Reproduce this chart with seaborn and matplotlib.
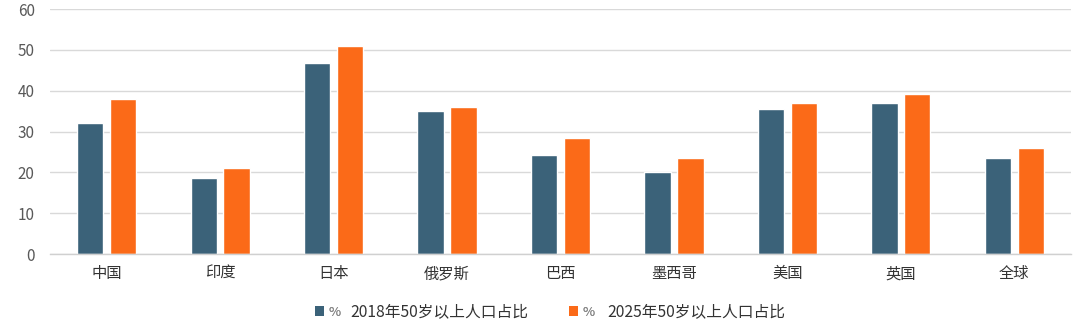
import matplotlib
matplotlib.use("Agg")
import matplotlib.pyplot as plt
import seaborn as sns
import pandas as pd
from matplotlib.patches import Patch

categories = ["中国", "印度", "日本", "俄罗斯", "巴西", "墨西哥", "美国", "英国", "全球"]
share_2018 = [32.0, 18.7, 46.9, 35.0, 24.3, 20.1, 35.4, 37.1, 23.6]
share_2025 = [38.0, 21.0, 51.0, 36.1, 28.3, 23.5, 36.9, 39.2, 26.0]
series_names = ["2018年50岁以上人口占比", "2025年50岁以上人口占比"]
y_ticks = [0, 10, 20, 30, 40, 50, 60]

colors = ["#3b6279", "#fb6a18"]

df = pd.DataFrame({
    "国家": categories * 2,
    "占比": share_2018 + share_2025,
    "系列": [series_names[0]] * len(categories) + [series_names[1]] * len(categories),
})

sns.set_theme(style="white")
plt.rcParams["font.family"] = ["Noto Sans CJK SC", "DejaVu Sans"]

fig = plt.figure(figsize=(10.8, 3.23), dpi=100)
ax = fig.add_axes([0.0463, 0.2136, 0.9454, 0.7584])

sns.barplot(data=df, x="国家", y="占比", hue="系列", order=categories,
            hue_order=series_names, palette=colors, width=0.58, gap=0.2,
            saturation=1, legend=False, ax=ax)

ax.set_ylim(0, 60)
ax.set_yticks(y_ticks)
ax.set_xlim(-0.5, len(categories) - 0.5)
ax.yaxis.grid(True, color="#d9d9d9", linewidth=1.0)
ax.set_axisbelow(True)
for side in ["left", "right", "top"]:
    ax.spines[side].set_visible(False)
ax.spines["bottom"].set_color("#d0d0d0")
ax.spines["bottom"].set_linewidth(1.0)
ax.tick_params(axis="y", length=0, pad=11, labelsize=11, labelcolor="#595959")
ax.tick_params(axis="x", length=0, pad=8, labelsize=11, labelcolor="#333333")
ax.set_xlabel("")
ax.set_ylabel("")

# legend entries: colour square with a grey "%" marker, followed by the series name
legend_y = 0.034
for color, name, x_sq, x_txt in zip(colors, series_names, [315, 569], [350, 607]):
    leg = fig.legend([Patch(facecolor=color, edgecolor="none")], ["%"],
                     loc="center left", bbox_to_anchor=(x_sq / 1080, legend_y),
                     frameon=False, fontsize=9.5, handlelength=0.7, handleheight=0.7,
                     handletextpad=0.35, borderpad=0, borderaxespad=0,
                     labelcolor="#8a8a8a")
    fig.add_artist(leg)
    fig.text(x_txt / 1080, legend_y, name, ha="left", va="center",
             fontsize=11.3, color="#333333")

fig.savefig("out.png", dpi=100, facecolor="white")
